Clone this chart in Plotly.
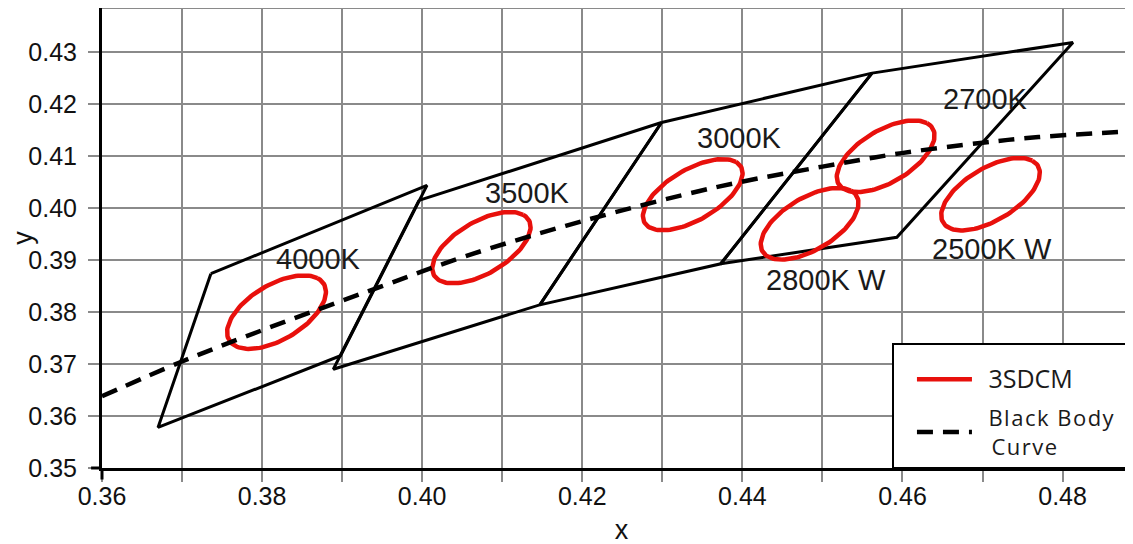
import plotly.graph_objects as go
import numpy as np

# ---- data ----
# CCT quadrangles: corners in order TL, TR, BR, BL
quad_names = ["4000K", "3500K", "3000K", "2700K"]
quad_x = [[0.3736, 0.4006, 0.3898, 0.3670],
          [0.3996, 0.4299, 0.4147, 0.3889],
          [0.4299, 0.4562, 0.4373, 0.4147],
          [0.4562, 0.4813, 0.4593, 0.4373]]
quad_y = [[0.3874, 0.4044, 0.3716, 0.3578],
          [0.4015, 0.4165, 0.3814, 0.3690],
          [0.4165, 0.4260, 0.3893, 0.3814],
          [0.4260, 0.4319, 0.3944, 0.3893]]

# 3SDCM ellipses: centre, semi-axes, rotation (deg)
ell_names = ["4000K", "3500K", "3000K", "2700K", "2800K W", "2500K W"]
ell_cx = [0.3818, 0.4074, 0.4338, 0.4579, 0.4484, 0.4710]
ell_cy = [0.3800, 0.3924, 0.4026, 0.4100, 0.3970, 0.4027]
ell_a = [0.0083, 0.0082, 0.0083, 0.0082, 0.0082, 0.0083]
ell_b = [0.0044, 0.0042, 0.0041, 0.0042, 0.0042, 0.0042]
ell_theta = [52, 50.5, 49.5, 51, 51, 51]

# Black body (Planckian) curve points
bb_x = [0.3600, 0.3700, 0.3805, 0.3950, 0.4053, 0.4200, 0.4369, 0.4500,
        0.4599, 0.4700, 0.4770, 0.4900]
bb_y = [0.3638, 0.3705, 0.3768, 0.3850, 0.3907, 0.3975, 0.4041, 0.4080,
        0.4106, 0.4126, 0.4137, 0.4149]

# Labels
lab_text = ["4000K", "3500K", "3000K", "2700K", "2800K W", "2500K W"]
lab_x = [0.3870, 0.4131, 0.4397, 0.4704, 0.4504, 0.4712]
lab_y = [0.3902, 0.4029, 0.4136, 0.4211, 0.3862, 0.3921]

# Ticks
x_tickvals = [0.36, 0.37, 0.38, 0.39, 0.40, 0.41, 0.42, 0.43, 0.44, 0.45, 0.46, 0.47, 0.48]
x_ticktext = ["0.36", "", "0.38", "", "0.40", "", "0.42", "", "0.44", "", "0.46", "", "0.48"]
y_tickvals = [0.35, 0.36, 0.37, 0.38, 0.39, 0.40, 0.41, 0.42, 0.43]
y_ticktext = ["0.35", "0.36", "0.37", "0.38", "0.39", "0.40", "0.41", "0.42", "0.43"]

# ---- build traces ----
px_, py_ = [], []
for xs, ys in zip(quad_x, quad_y):
    px_ += xs + [xs[0], None]
    py_ += ys + [ys[0], None]

t = np.linspace(0, 2 * np.pi, 121)
ex, ey = [], []
for cx, cy, a, b, th in zip(ell_cx, ell_cy, ell_a, ell_b, ell_theta):
    r = np.deg2rad(th)
    ex += list(cx + a * np.cos(r) * np.cos(t) - b * np.sin(r) * np.sin(t)) + [None]
    ey += list(cy + a * np.sin(r) * np.cos(t) + b * np.cos(r) * np.sin(t)) + [None]

fig = go.Figure()
fig.add_trace(go.Scatter(x=px_, y=py_, mode="lines", line=dict(color="black", width=3),
                         showlegend=False, hoverinfo="skip"))
fig.add_trace(go.Scatter(x=ex, y=ey, mode="lines", legendgroup="a",
                         name="&nbsp;&nbsp;<span style='font-size:25px'>3SDCM</span>",
                         line=dict(color="#e8100c", width=4.5)))
fig.add_trace(go.Scatter(x=bb_x, y=bb_y, mode="lines", legendgroup="b",
                         name="&nbsp;&nbsp;<span style='letter-spacing:1.5px'>Black Body&nbsp;&nbsp;<br>&nbsp;&nbsp;Curve</span>",
                         line=dict(color="black", width=4.5, dash="16px,10px", shape="spline")))

for tx, lx, ly in zip(lab_text, lab_x, lab_y):
    fig.add_annotation(x=lx, y=ly, text=tx, showarrow=False,
                       font=dict(family="Liberation Sans", size=29, color="#1a1a1a"))

axis_common = dict(showgrid=True, gridcolor="#8a8a8a", gridwidth=2, zeroline=False,
                   showline=True, linecolor="black", linewidth=3,
                   ticks="outside", ticklen=11, tickwidth=2, tickcolor="#8a8a8a",
                   tickfont=dict(family="Liberation Sans", size=25, color="#111"))

fig.update_xaxes(range=[0.36, 0.4898], tickmode="array", tickvals=x_tickvals, ticktext=x_ticktext,
                 ticklabelstandoff=-7,
                 title=dict(text="x", font=dict(family="Liberation Sans", size=27, color="#111"), standoff=12),
                 **axis_common)
fig.update_yaxes(range=[0.35, 0.43853], tickmode="array", tickvals=y_tickvals, ticktext=y_ticktext,
                 ticklabelstandoff=6,
                 title=dict(text="y", font=dict(family="Liberation Sans", size=27, color="#111"), standoff=2),
                 **axis_common)

# top frame line and axis-line extensions at the corner
fig.add_shape(type="line", xref="paper", yref="paper", x0=0, x1=1, y0=1, y1=1,
              line=dict(color="#8a8a8a", width=2))
fig.add_shape(type="line", xref="paper", yref="paper", x0=0, x1=0, y0=0, y1=-0.025,
              line=dict(color="black", width=3))
fig.add_shape(type="line", xref="paper", yref="paper", x0=0, x1=-0.0105, y0=0, y1=0,
              line=dict(color="black", width=3))

fig.update_layout(
    width=1133, height=544,
    margin=dict(l=94, r=0, t=0, b=84, autoexpand=False),
    plot_bgcolor="white", paper_bgcolor="white",
    showlegend=True,
    legend=dict(x=0.7603, y=0.271, xanchor="left", yanchor="top",
                bgcolor="white", bordercolor="black", borderwidth=2,
                font=dict(family="Open Sans", size=22, color="#1a1a1a"),
                title=dict(text="&nbsp;", font=dict(size=10)),
                indentation=18, tracegroupgap=7,
                itemwidth=55),
)

fig.write_html("out.html")
